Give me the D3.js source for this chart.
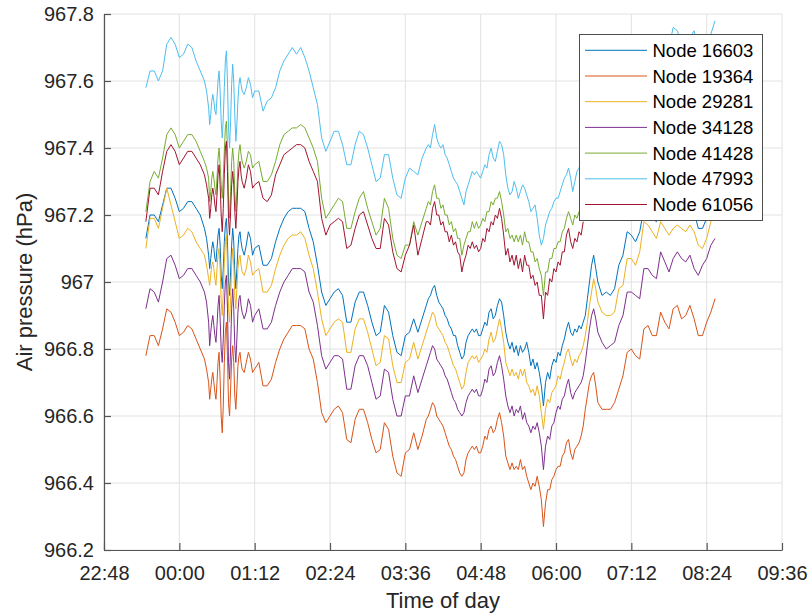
<!DOCTYPE html>
<html>
<head>
<meta charset="utf-8">
<script src="https://cdn.jsdelivr.net/npm/d3@7"></script>
<style>
  html, body { margin: 0; padding: 0; background: #ffffff; }
  svg { display: block; font-family: "Liberation Sans", Arial, Helvetica, sans-serif; }
</style>
</head>
<body>
<svg id="chart" width="811" height="616"></svg>
<script>
// Sample clock times (night of logging, 23:28 to 08:32 next morning)
const sampleTimes = [
  "23:28","23:32","23:36","23:40","23:44","23:48","23:52","23:56","00:00","00:04","00:08","00:12","00:16","00:20","00:24","00:26","00:28",
  "00:29","00:30","00:31","00:32","00:33","00:34","00:35","00:36","00:37","00:38","00:39","00:40","00:41","00:42","00:43","00:44",
  "00:45","00:46","00:47","00:48","00:49","00:50","00:51","00:52","00:53","00:54","00:55","00:56","00:57","00:58","00:59","01:00",
  "01:02","01:04","01:06","01:08","01:10","01:12",
  "01:16","01:20","01:24","01:28","01:32","01:36","01:40","01:44","01:48","01:52","01:56","02:00","02:04","02:08","02:12","02:16",
  "02:20","02:24","02:28","02:32","02:36","02:40","02:44","02:48","02:52","02:56","03:00","03:04","03:08","03:12","03:16","03:20",
  "03:24","03:28","03:32","03:36","03:40","03:44","03:48","03:52","03:56",
  "03:58",
  "04:00","04:02","04:04","04:06","04:08","04:10","04:12","04:14","04:16","04:18","04:20","04:22","04:24","04:26","04:28",
  "04:30","04:32","04:34","04:36","04:38","04:40","04:42","04:44","04:46","04:48","04:50","04:52","04:54","04:56","04:58",
  "05:00","05:02","05:04","05:06","05:08","05:10","05:12","05:14","05:16","05:18","05:20","05:22","05:24","05:26","05:28",
  "05:30","05:32","05:34","05:36","05:38","05:40","05:42","05:44","05:46","05:48","05:50","05:52","05:54","05:56","05:58",
  "06:00","06:02","06:04","06:06","06:08","06:10","06:12","06:14","06:16","06:18","06:20","06:22","06:24","06:26","06:28",
  "06:30","06:32","06:34","06:36","06:38","06:40",
  "06:44","06:48","06:52","06:56","07:00","07:04","07:08","07:12","07:16","07:20","07:24","07:28","07:32","07:36",
  "07:40","07:44","07:48","07:52","07:56","08:00","08:04","08:08","08:12","08:16","08:20","08:24","08:28","08:32"
];

// Air pressure per node (hPa), one value per sample time
const node16603 = [
  967.13,967.20,967.20,967.18,967.23,967.28,967.28,967.25,967.21,967.22,967.24,967.24,967.22,967.20,967.16,967.13,967.08,
  967.04,967.07,967.10,967.12,967.10,967.07,967.06,967.10,967.14,967.16,967.11,967.02,966.98,967.04,967.12,967.17,
  967.19,967.12,967.00,966.96,967.03,967.11,967.16,967.12,967.03,966.98,967.04,967.10,967.14,967.15,967.12,967.10,
  967.08,967.11,967.15,967.13,967.08,967.10,
  967.11,967.05,967.05,967.07,967.12,967.16,967.19,967.21,967.22,967.22,967.22,967.21,967.16,967.12,967.05,966.97,
  966.93,966.95,966.97,966.98,966.96,966.88,966.88,966.94,966.97,966.97,966.93,966.88,966.84,966.85,966.93,966.91,
  966.84,966.79,966.78,966.84,966.85,966.89,966.85,966.89,966.93,
  966.95,
  966.96,966.98,966.99,966.96,966.94,966.93,966.92,966.90,966.89,966.87,966.86,966.84,966.84,966.81,966.79,
  966.77,966.78,966.82,966.84,966.85,966.86,966.85,966.86,966.84,966.84,966.86,966.88,966.87,966.91,966.92,
  966.89,966.90,966.93,966.95,966.94,966.90,966.85,966.82,966.80,966.82,966.79,966.81,966.78,966.81,966.79,
  966.80,966.82,966.79,966.75,966.77,966.74,966.76,966.73,966.69,966.63,966.70,966.73,966.71,966.75,966.77,
  966.76,966.79,966.78,966.81,966.83,966.86,966.88,966.85,966.84,966.86,966.85,966.87,966.86,966.88,966.90,
  966.95,967.00,967.05,967.08,967.04,967.00,
  966.96,966.97,966.96,966.98,967.05,967.08,967.15,967.14,967.12,967.15,967.22,967.21,967.19,967.18,
  967.23,967.22,967.19,967.22,967.21,967.21,967.20,967.22,967.21,967.16,967.16,967.19,967.23,967.27
];
const node19364 = [
  966.78,966.84,966.84,966.81,966.86,966.92,966.91,966.88,966.84,966.85,966.87,966.86,966.83,966.80,966.77,966.74,966.70,
  966.65,966.68,966.71,966.73,966.70,966.67,966.65,966.70,966.76,966.79,966.71,966.60,966.55,966.63,966.76,966.85,
  966.88,966.78,966.64,966.60,966.68,966.77,966.81,966.76,966.66,966.62,966.68,966.75,966.78,966.79,966.76,966.74,
  966.73,966.76,966.79,966.77,966.73,966.74,
  966.76,966.69,966.69,966.71,966.76,966.80,966.83,966.85,966.87,966.87,966.87,966.86,966.80,966.77,966.70,966.61,
  966.58,966.60,966.62,966.63,966.61,966.53,966.52,966.59,966.62,966.62,966.58,966.53,966.49,966.50,966.58,966.56,
  966.48,966.43,966.42,966.49,966.50,966.55,966.50,966.54,966.59,
  966.60,
  966.62,966.64,966.63,966.60,966.59,966.58,966.57,966.55,966.53,966.51,966.50,966.48,966.47,966.45,966.43,
  966.42,966.43,966.47,966.49,966.50,966.51,966.50,966.51,966.49,966.49,966.51,966.54,966.53,966.56,966.57,
  966.55,966.56,966.59,966.61,966.58,966.54,966.48,966.46,966.44,966.46,966.44,966.45,966.44,966.47,966.44,
  966.45,966.42,966.40,966.38,966.40,966.39,966.42,966.39,966.35,966.27,966.34,966.38,966.38,966.41,966.42,
  966.44,966.45,966.45,966.48,966.49,966.52,966.53,966.49,966.47,966.50,966.51,966.52,966.54,966.57,966.62,
  966.66,966.70,966.72,966.73,966.69,966.64,
  966.62,966.62,966.62,966.64,966.68,966.72,966.79,966.80,966.78,966.77,966.86,966.87,966.84,966.84,
  966.91,966.88,966.86,966.92,966.93,966.89,966.90,966.93,966.89,966.84,966.84,966.88,966.91,966.95
];
const node29281 = [
  967.10,967.19,967.19,967.16,967.22,967.28,967.23,967.18,967.13,967.14,967.16,967.15,967.12,967.10,967.08,967.05,967.01,
  966.99,967.02,967.05,967.06,967.04,967.01,966.99,967.04,967.08,967.10,967.04,966.94,966.90,966.97,967.06,967.12,
  967.14,967.05,966.92,966.88,966.95,967.05,967.10,967.05,966.96,966.92,966.98,967.04,967.07,967.08,967.05,967.03,
  967.02,967.04,967.08,967.06,967.02,967.03,
  967.04,966.97,966.97,966.99,967.04,967.08,967.11,967.13,967.14,967.14,967.15,967.13,967.08,967.04,966.97,966.89,
  966.84,966.86,966.88,966.89,966.88,966.79,966.79,966.86,966.89,966.89,966.85,966.80,966.75,966.76,966.84,966.83,
  966.75,966.70,966.70,966.76,966.77,966.82,966.77,966.81,966.85,
  966.87,
  966.89,966.91,966.90,966.87,966.86,966.85,966.84,966.82,966.81,966.79,966.77,966.75,966.74,966.72,966.70,
  966.68,966.69,966.73,966.76,966.77,966.78,966.77,966.78,966.76,966.77,966.78,966.80,966.79,966.83,966.85,
  966.82,966.83,966.86,966.89,966.86,966.82,966.76,966.74,966.72,966.74,966.72,966.73,966.71,966.74,966.72,
  966.74,966.70,966.69,966.67,966.68,966.66,966.69,966.66,966.61,966.56,966.62,966.65,966.64,966.67,966.68,
  966.69,966.72,966.71,966.74,966.76,966.79,966.80,966.77,966.75,966.77,966.76,966.78,966.79,966.81,966.84,
  966.88,966.93,966.97,967.01,966.98,966.94,
  966.91,966.90,966.90,966.91,966.98,966.99,967.07,967.07,967.05,967.09,967.18,967.17,967.15,967.13,
  967.18,967.16,967.14,967.16,967.17,967.16,967.15,967.17,967.15,967.11,967.10,967.13,967.18,967.22
];
const node34128 = [
  966.92,966.98,966.97,966.94,967.00,967.07,967.08,967.05,967.01,967.02,967.04,967.04,967.02,967.00,966.97,966.94,966.88,
  966.81,966.85,966.88,966.90,966.87,966.84,966.82,966.87,966.93,966.96,966.89,966.80,966.76,966.83,966.93,967.00,
  967.02,966.92,966.76,966.71,966.80,966.92,966.98,966.92,966.81,966.76,966.83,966.91,966.95,966.96,966.93,966.91,
  966.89,966.91,966.95,966.93,966.88,966.90,
  966.92,966.86,966.86,966.88,966.93,966.97,967.00,967.02,967.04,967.04,967.04,967.03,966.97,966.94,966.87,966.78,
  966.74,966.76,966.78,966.78,966.77,966.68,966.68,966.75,966.78,966.78,966.75,966.70,966.65,966.66,966.74,966.73,
  966.65,966.60,966.60,966.66,966.66,966.72,966.67,966.71,966.75,
  966.77,
  966.79,966.81,966.80,966.77,966.76,966.75,966.74,966.72,966.71,966.69,966.67,966.65,966.64,966.62,966.61,
  966.60,966.61,966.64,966.66,966.67,966.68,966.67,966.68,966.66,966.66,966.68,966.71,966.70,966.74,966.75,
  966.72,966.73,966.76,966.78,966.75,966.71,966.66,966.63,966.61,966.63,966.60,966.62,966.61,966.63,966.59,
  966.61,966.58,966.57,966.55,966.57,966.56,966.58,966.55,966.51,966.44,966.51,966.54,966.53,966.57,966.58,
  966.61,966.63,966.62,966.65,966.66,966.69,966.71,966.67,966.65,966.67,966.68,966.69,966.70,966.72,966.76,
  966.81,966.86,966.90,966.92,966.89,966.85,
  966.82,966.80,966.81,966.82,966.87,966.90,966.97,966.97,966.96,966.95,967.04,967.04,967.02,967.01,
  967.09,967.06,967.03,967.07,967.09,967.07,967.06,967.08,967.04,967.02,967.05,967.07,967.11,967.13
];
// Node 41428 and Node 61056 stop logging at 06:26
const node41428 = [
  967.21,967.30,967.33,967.31,967.37,967.44,967.46,967.44,967.40,967.42,967.44,967.44,967.42,967.39,967.36,967.34,967.31,
  967.24,967.27,967.31,967.33,967.31,967.28,967.26,967.31,967.37,967.40,967.35,967.29,967.25,967.31,967.39,967.46,
  967.48,967.40,967.25,967.19,967.27,967.36,967.40,967.36,967.27,967.21,967.27,967.35,967.39,967.41,967.38,967.36,
  967.34,967.36,967.39,967.38,967.34,967.35,
  967.36,967.30,967.30,967.32,967.36,967.41,967.44,967.45,967.46,967.46,967.47,967.46,967.43,967.40,967.36,967.25,
  967.19,967.21,967.23,967.25,967.24,967.16,967.16,967.21,967.25,967.27,967.22,967.18,967.14,967.16,967.25,967.22,
  967.13,967.08,967.07,967.11,967.11,967.18,967.14,967.18,967.22,
  967.24,
  967.23,967.27,967.29,967.25,967.25,967.22,967.23,967.20,967.20,967.17,967.18,967.15,967.16,967.13,967.13,
  967.08,967.11,967.13,967.15,967.15,967.18,967.16,967.18,967.16,967.17,967.19,967.18,967.21,967.21,967.24,
  967.23,967.25,967.25,967.27,967.24,967.20,967.15,967.16,967.13,967.14,967.12,967.14,967.12,967.14,967.11,
  967.15,967.12,967.12,967.09,967.09,967.06,967.07,967.04,967.02,966.96,967.03,967.03,967.07,967.07,967.10,
  967.10,967.12,967.12,967.15,967.16,967.19,967.21,967.19,967.17,967.20,967.19,967.21,967.20,967.22
];
const node47993 = [
  967.58,967.63,967.63,967.60,967.63,967.71,967.73,967.71,967.67,967.68,967.71,967.70,967.66,967.63,967.60,967.57,967.52,
  967.47,967.50,967.54,967.56,967.54,967.51,967.50,967.55,967.60,967.63,967.57,967.48,967.43,967.49,967.58,967.66,
  967.69,967.60,967.46,967.40,967.48,967.59,967.65,967.60,967.50,967.42,967.47,967.54,967.59,967.61,967.59,967.57,
  967.56,967.58,967.61,967.59,967.55,967.57,
  967.57,967.51,967.54,967.55,967.58,967.63,967.66,967.68,967.70,967.68,967.70,967.67,967.63,967.58,967.53,967.43,
  967.39,967.42,967.45,967.45,967.41,967.35,967.35,967.41,967.45,967.44,967.40,967.35,967.30,967.31,967.38,967.38,
  967.31,967.26,967.25,967.31,967.34,967.33,967.32,967.37,967.40,
  967.41,
  967.40,967.44,967.47,967.43,967.41,967.40,967.41,967.38,967.37,967.35,967.33,967.31,967.30,967.29,967.27,
  967.25,967.23,967.27,967.29,967.31,967.33,967.32,967.33,967.32,967.31,967.33,967.35,967.34,967.38,967.40,
  967.37,967.36,967.39,967.42,967.41,967.38,967.32,967.28,967.26,967.27,967.30,967.28,967.25,967.27,967.29,
  967.28,967.26,967.24,967.21,967.22,967.23,967.19,967.14,967.11,967.13,967.17,967.19,967.21,967.22,967.24,
  967.25,967.25,967.27,967.29,967.31,967.32,967.34,967.31,967.27,967.30,967.33,967.34,967.36,967.40,967.45,
  967.52,967.56,967.58,967.57,967.52,967.49,
  967.47,967.46,967.47,967.49,967.55,967.58,967.64,967.63,967.62,967.64,967.70,967.70,967.67,967.66,
  967.72,967.71,967.70,967.76,967.75,967.71,967.70,967.73,967.75,967.69,967.68,967.70,967.74,967.78
];
const node61056 = [
  967.18,967.28,967.28,967.26,967.33,967.39,967.41,967.39,967.35,967.37,967.39,967.39,967.37,967.35,967.32,967.29,967.25,
  967.19,967.22,967.26,967.28,967.26,967.23,967.21,967.26,967.32,967.35,967.29,967.20,967.15,967.22,967.32,967.40,
  967.42,967.33,967.19,967.14,967.21,967.29,967.33,967.29,967.21,967.16,967.22,967.30,967.34,967.36,967.32,967.30,
  967.28,967.31,967.35,967.33,967.28,967.29,
  967.30,967.25,967.24,967.26,967.32,967.35,967.38,967.39,967.40,967.41,967.41,967.40,967.36,967.33,967.30,967.19,
  967.14,967.17,967.18,967.19,967.18,967.10,967.11,967.16,967.20,967.21,967.17,967.13,967.10,967.10,967.19,967.17,
  967.09,967.04,967.03,967.08,967.11,967.17,967.08,967.13,967.18,
  967.18,
  967.17,967.22,967.24,967.20,967.20,967.17,967.18,967.15,967.15,967.12,967.14,967.11,967.12,967.09,967.08,
  967.03,967.06,967.08,967.11,967.10,967.12,967.10,967.11,967.09,967.10,967.13,967.12,967.16,967.15,967.18,
  967.17,967.20,967.19,967.22,967.19,967.14,967.08,967.10,967.06,967.08,967.05,967.08,967.04,967.07,967.03,
  967.08,967.05,967.05,967.01,967.02,966.99,967.00,966.96,966.96,966.89,966.97,966.96,967.01,967.00,967.04,
  967.03,967.06,967.05,967.09,967.09,967.14,967.16,967.12,967.10,967.13,967.12,967.15,967.14,967.18
];

const seriesNames  = ["Node 16603", "Node 19364", "Node 29281", "Node 34128", "Node 41428", "Node 47993", "Node 61056"];
const seriesValues = [node16603, node19364, node29281, node34128, node41428, node47993, node61056];
const seriesColors = ["#0072BD", "#D95319", "#EDB120", "#7E2F8E", "#77AC30", "#4DBEEE", "#A2142F"];

const yTickValues = [966.2, 966.4, 966.6, 966.8, 967.0, 967.2, 967.4, 967.6, 967.8];
const yTickLabels = ["966.2", "966.4", "966.6", "966.8", "967", "967.2", "967.4", "967.6", "967.8"];
const xTickLabels = ["22:48", "00:00", "01:12", "02:24", "03:36", "04:48", "06:00", "07:12", "08:24", "09:36"];

// Evening times belong to the first day, morning times to the next
function parseClock(s) {
  const [h, m] = s.split(":").map(Number);
  return new Date(2000, 0, h >= 12 ? 1 : 2, h, m);
}

const W = 811, H = 616;
const margin = { top: 14, right: 29, bottom: 66, left: 104 };
const innerW = W - margin.left - margin.right;
const innerH = H - margin.top - margin.bottom;

const textColor = "#262626";
const axisColor = "#555555";
const gridColor = "#e2e2e2";

const svg = d3.select("#chart");
const g = svg.append("g").attr("transform", `translate(${margin.left},${margin.top})`);

const xTicks = xTickLabels.map(parseClock);
const x = d3.scaleTime()
  .domain([xTicks[0], xTicks[xTicks.length - 1]])
  .range([0, innerW]);
const y = d3.scaleLinear()
  .domain([yTickValues[0], yTickValues[yTickValues.length - 1]])
  .range([innerH, 0]);

// Grid
g.append("g").selectAll("line").data(xTicks).join("line")
  .attr("x1", d => x(d)).attr("x2", d => x(d))
  .attr("y1", 0).attr("y2", innerH)
  .attr("stroke", gridColor).attr("stroke-width", 1);
g.append("g").selectAll("line").data(yTickValues).join("line")
  .attr("x1", 0).attr("x2", innerW)
  .attr("y1", d => y(d)).attr("y2", d => y(d))
  .attr("stroke", gridColor).attr("stroke-width", 1);

// Series lines
const line = d3.line()
  .x(d => x(d.t))
  .y(d => y(d.v));

seriesValues.forEach((vals, i) => {
  const pts = vals.map((v, k) => ({ t: parseClock(sampleTimes[k]), v }));
  g.append("path")
    .datum(pts)
    .attr("fill", "none")
    .attr("stroke", seriesColors[i])
    .attr("stroke-width", 1)
    .attr("stroke-linejoin", "round")
    .attr("d", line);
});

// Axes (ticks drawn inward)
const xAxis = d3.axisBottom(x)
  .tickValues(xTicks)
  .tickFormat((d, i) => xTickLabels[i])
  .tickSizeInner(-7)
  .tickSizeOuter(0)
  .tickPadding(16);
const yAxis = d3.axisLeft(y)
  .tickValues(yTickValues)
  .tickFormat((d, i) => yTickLabels[i])
  .tickSizeInner(-7)
  .tickSizeOuter(0)
  .tickPadding(10);

const gx = g.append("g").attr("transform", `translate(0,${innerH})`).call(xAxis);
const gy = g.append("g").call(yAxis);
[gx, gy].forEach(a => {
  a.select(".domain").attr("stroke", axisColor).attr("stroke-width", 1.2);
  a.selectAll(".tick line").attr("stroke", axisColor).attr("stroke-width", 1.2);
  a.selectAll(".tick text")
    .attr("fill", textColor)
    .style("font-size", "20px")
    .style("font-family", "'Liberation Sans', Arial, Helvetica, sans-serif");
});

// Axis titles
svg.append("text")
  .attr("x", margin.left + innerW / 2)
  .attr("y", 608)
  .attr("text-anchor", "middle")
  .attr("fill", textColor)
  .style("font-size", "22px")
  .text("Time of day");
svg.append("text")
  .attr("transform", `translate(32,${margin.top + innerH / 2}) rotate(-90)`)
  .attr("text-anchor", "middle")
  .attr("fill", textColor)
  .style("font-size", "22px")
  .text("Air pressure (hPa)");

// Legend
const legend = svg.append("g").attr("transform", "translate(579,34)");
legend.append("rect")
  .attr("x", 0.5).attr("y", 0.5)
  .attr("width", 183).attr("height", 186)
  .attr("fill", "#ffffff")
  .attr("stroke", "#4d4d4d")
  .attr("stroke-width", 1);
const rowStep = 25.7;
seriesNames.forEach((name, i) => {
  const cy = 16.3 + i * rowStep;
  legend.append("line")
    .attr("x1", 6).attr("x2", 68)
    .attr("y1", cy).attr("y2", cy)
    .attr("stroke", seriesColors[i])
    .attr("stroke-width", 1);
  legend.append("text")
    .attr("x", 73.5)
    .attr("y", cy + 6.6)
    .attr("fill", "#000000")
    .style("font-size", "18.5px")
    .text(name);
});
</script>
</body>
</html>
